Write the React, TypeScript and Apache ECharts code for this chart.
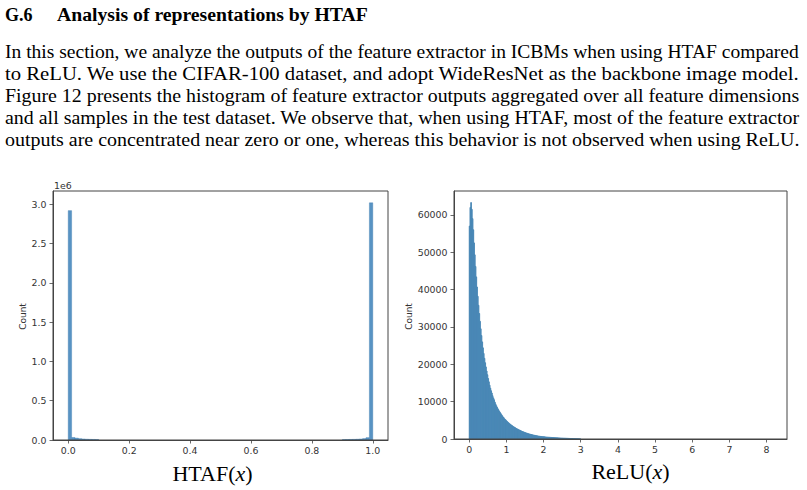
import React, { useEffect, useRef } from "react";
import * as echarts from "echarts";

// ---------- text ----------
const TITLE_NUM = "G.6";
const TITLE_TEXT = "Analysis of representations by HTAF";
const PARAGRAPH_LINES = [
  "In this section, we analyze the outputs of the feature extractor in ICBMs when using HTAF compared",
  "to ReLU. We use the CIFAR-100 dataset, and adopt WideResNet as the backbone image model.",
  "Figure 12 presents the histogram of feature extractor outputs aggregated over all feature dimensions",
  "and all samples in the test dataset. We observe that, when using HTAF, most of the feature extractor",
  "outputs are concentrated near zero or one, whereas this behavior is not observed when using ReLU.",
];

// ---------- left histogram: HTAF(x) ----------
const HTAF_BIN_WIDTH = 1 / 90;
// bins starting at 0
const HTAF_LOW_COUNTS = [2920000, 32000, 24000, 17000, 13000, 10000, 8000, 7000, 6000];
// bins ending at 1
const HTAF_HIGH_COUNTS = [5000, 6000, 7000, 8000, 10000, 13000, 18000, 30000, 3020000];
const HTAF_X_TICKS = [0, 0.2, 0.4, 0.6, 0.8, 1.0];
const HTAF_Y_TICKS = [0, 500000, 1000000, 1500000, 2000000, 2500000, 3000000];

// ---------- right histogram: ReLU(x) ----------
const RELU_BIN_WIDTH = 0.02;
const RELU_COUNTS = [
  57000, 62000, 63300, 61500, 59000, 56000, 52500, 49300, 46200, 43400,
  40700, 38200, 35800, 33600, 31500, 29500, 27700, 26000, 24400, 22900,
  21600, 20400, 19300, 18200, 17200, 16200, 15300, 14400, 13600,
  12900, 12300, 11600, 11000, 10500, 9900, 9400, 8900,
  8500, 8100, 7800, 7400, 7100, 6800, 6500, 6200, 5900, 5700, 5400, 5200,
  5000, 4800, 4600, 4400, 4200, 4050, 3900, 3750, 3600, 3450, 3300, 3200, 3050, 2950, 2800, 2700, 2600, 2500,
  2400, 2300, 2200, 2100, 2000, 1930, 1850, 1770, 1700, 1620, 1550, 1490, 1420, 1360, 1300, 1250, 1200, 1150,
  1100, 1050, 1000, 960, 920, 880, 840, 800, 770, 740, 700,
  680, 650, 630, 610, 590, 570, 550, 530, 510, 490, 470, 460, 440, 430, 410, 400, 380, 370, 360, 340,
  330, 320, 310, 300, 290, 280, 270,
  260, 250, 240, 230, 220, 210, 200, 190, 180, 170, 160, 150, 140, 130, 120, 110, 100,
  80, 70, 60, 50, 50, 40, 40, 30, 30, 20,
];
const RELU_X_TICKS = [0, 1, 2, 3, 4, 5, 6, 7, 8];
const RELU_Y_TICKS = [0, 10000, 20000, 30000, 40000, 50000, 60000];

const SERIF = '"Liberation Serif", "Times New Roman", serif';
const SANS = '"DejaVu Sans", sans-serif';

function measure(text: string, font: string): number {
  const c = document.createElement("canvas").getContext("2d");
  if (!c) return 0;
  c.font = font;
  return c.measureText(text).width;
}

function histRender(fill: string, stroke: string, lw: number) {
  return (params: any, api: any) => {
    const x0 = api.value(0);
    const x1 = api.value(1);
    const y = api.value(2);
    const p0 = api.coord([x0, y]);
    const p1 = api.coord([x1, 0]);
    return {
      type: "rect",
      shape: { x: p0[0], y: p0[1], width: p1[0] - p0[0], height: p1[1] - p0[1] },
      style: { fill, stroke, lineWidth: lw },
    };
  };
}

export default function App() {
  const ref = useRef<HTMLDivElement>(null);

  useEffect(() => {
    if (!ref.current) return;
    const chart = echarts.init(ref.current, undefined, { renderer: "svg" });

    const htafData: number[][] = [];
    HTAF_LOW_COUNTS.forEach((c, i) => htafData.push([i * HTAF_BIN_WIDTH, (i + 1) * HTAF_BIN_WIDTH, c]));
    const nHigh = HTAF_HIGH_COUNTS.length;
    HTAF_HIGH_COUNTS.forEach((c, i) =>
      htafData.push([1 - (nHigh - i) * HTAF_BIN_WIDTH, 1 - (nHigh - i - 1) * HTAF_BIN_WIDTH, c])
    );
    const reluData = RELU_COUNTS.map((c, i) => [i * RELU_BIN_WIDTH, (i + 1) * RELU_BIN_WIDTH, c]);

    const paraFont = `18px ${SERIF}`;
    const paraTarget = 795;
    const paraY = [52, 74, 96, 118, 140];
    const paraGraphics = PARAGRAPH_LINES.map((line, i) => {
      const w = measure(line, paraFont);
      const s = w > 0 ? paraTarget / w : 1;
      return {
        type: "text",
        x: 5,
        y: paraY[i],
        scaleX: s,
        style: {
          text: line,
          x: 0,
          y: 0,
          font: paraFont,
          fill: "#000",
          align: "left",
          verticalAlign: "middle",
        },
      };
    });

    const titleFont = `bold 18px ${SERIF}`;
    const titleW = measure(TITLE_TEXT, titleFont);
    const titleScale = titleW > 0 ? 311 / titleW : 1;

    const tickLabel = { color: "#333", fontFamily: SANS, fontSize: 9.4 };
    const axisLine = { show: true, onZero: false, lineStyle: { color: "#444", width: 1 } };
    const axisTick = { show: true, length: 3.5, lineStyle: { color: "#444", width: 0.8 } };
    const frame = (left: number, top: number, width: number, height: number) => ({
      type: "rect",
      shape: { x: left, y: top, width, height },
      style: { fill: "none", stroke: "#444", lineWidth: 1 },
      silent: true,
      z: 10,
    });

    const option: any = {
      animation: false,
      backgroundColor: "#fff",
      grid: [
        { left: 53, top: 191, width: 335, height: 249 },
        { left: 454, top: 191, width: 333, height: 248 },
      ],
      xAxis: [
        {
          type: "value",
          gridIndex: 0,
          min: -0.05,
          max: 1.05,
          splitLine: { show: false },
          axisLine,
          axisTick: { ...axisTick, customValues: HTAF_X_TICKS },
          axisLabel: { ...tickLabel, margin: 6, customValues: HTAF_X_TICKS, formatter: (v: number) => v.toFixed(1) },
        },
        {
          type: "value",
          gridIndex: 1,
          min: -0.41,
          max: 8.55,
          splitLine: { show: false },
          axisLine,
          axisTick: { ...axisTick, customValues: RELU_X_TICKS },
          axisLabel: { ...tickLabel, margin: 6, customValues: RELU_X_TICKS, formatter: (v: number) => String(Math.round(v)) },
        },
      ],
      yAxis: [
        {
          type: "value",
          gridIndex: 0,
          min: 0,
          max: 3170000,
          splitLine: { show: false },
          axisLine,
          axisTick: { ...axisTick, customValues: HTAF_Y_TICKS },
          axisLabel: { ...tickLabel, margin: 6.5, customValues: HTAF_Y_TICKS, formatter: (v: number) => (v / 1e6).toFixed(1) },
        },
        {
          type: "value",
          gridIndex: 1,
          min: 0,
          max: 66400,
          splitLine: { show: false },
          axisLine,
          axisTick: { ...axisTick, customValues: RELU_Y_TICKS },
          axisLabel: { ...tickLabel, margin: 6.5, customValues: RELU_Y_TICKS, formatter: (v: number) => String(Math.round(v)) },
        },
      ],
      series: [
        {
          type: "custom",
          xAxisIndex: 0,
          yAxisIndex: 0,
          renderItem: histRender("#5893c3", "#3d7bb0", 0.4),
          encode: { x: [0, 1], y: 2 },
          data: htafData,
          clip: true,
        },
        {
          type: "custom",
          xAxisIndex: 1,
          yAxisIndex: 1,
          renderItem: histRender("#4a88b6", "#4a88b6", 0.9),
          encode: { x: [0, 1], y: 2 },
          data: reluData,
          clip: true,
        },
      ],
      graphic: [
        frame(53, 191, 335, 249),
        frame(454, 191, 333, 248),
        {
          type: "text",
          x: 5,
          y: 15,
          style: { text: TITLE_NUM, x: 0, y: 0, font: titleFont, fill: "#000", align: "left", verticalAlign: "middle" },
        },
        {
          type: "text",
          x: 57,
          y: 15,
          scaleX: titleScale,
          style: { text: TITLE_TEXT, x: 0, y: 0, font: titleFont, fill: "#000", align: "left", verticalAlign: "middle" },
        },
        ...paraGraphics,
        {
          type: "text",
          x: 54,
          y: 185,
          style: { text: "1e6", x: 0, y: 0, fontFamily: SANS, fontSize: 9.4, fill: "#333", align: "left", verticalAlign: "middle" },
        },
        {
          type: "text",
          x: 22.5,
          y: 316.5,
          rotation: Math.PI / 2,
          style: { text: "Count", x: 0, y: 0, fontFamily: SANS, fontSize: 9, fill: "#333", align: "center", verticalAlign: "middle" },
        },
        {
          type: "text",
          x: 409,
          y: 316.5,
          rotation: Math.PI / 2,
          style: { text: "Count", x: 0, y: 0, fontFamily: SANS, fontSize: 9, fill: "#333", align: "center", verticalAlign: "middle" },
        },
        {
          type: "text",
          x: 212.5,
          y: 473,
          style: {
            text: "{a|HTAF(}{b|x}{a|)}",
            x: 0,
            y: 0,
            align: "center",
            verticalAlign: "middle",
            fill: "#000",
            rich: {
              a: { fontFamily: SERIF, fontSize: 22, fill: "#000" },
              b: { fontFamily: SERIF, fontSize: 22, fontStyle: "italic", fill: "#000" },
            },
          },
        },
        {
          type: "text",
          x: 630.5,
          y: 471,
          style: {
            text: "{a|ReLU(}{b|x}{a|)}",
            x: 0,
            y: 0,
            align: "center",
            verticalAlign: "middle",
            fill: "#000",
            rich: {
              a: { fontFamily: SERIF, fontSize: 22, fill: "#000" },
              b: { fontFamily: SERIF, fontSize: 22, fontStyle: "italic", fill: "#000" },
            },
          },
        },
      ],
    };

    chart.setOption(option);
    return () => chart.dispose();
  }, []);

  return (
    <div
      ref={ref}
      style={{ position: "absolute", left: 0, top: 0, width: 807, height: 490, background: "#fff" }}
    />
  );
}
